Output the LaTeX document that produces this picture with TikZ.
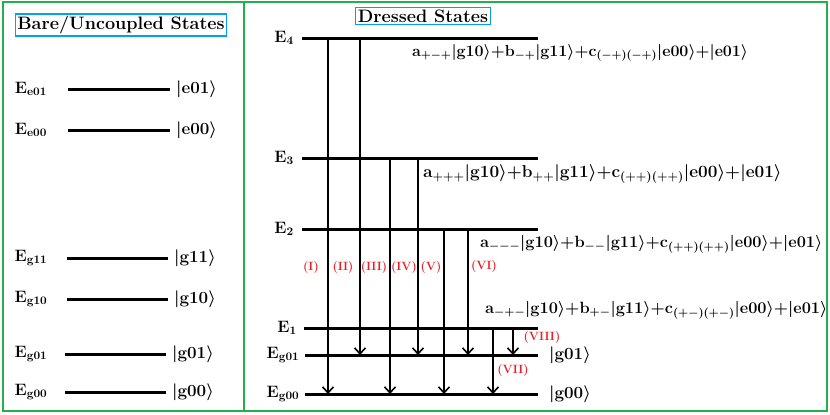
\RequirePackage{fix-cm}
\documentclass[tikz,border=0pt]{standalone}
\usetikzlibrary{arrows.meta}
\usepackage{amsmath}
\definecolor{pgreen}{RGB}{34,177,76}
\definecolor{pblue}{RGB}{0,162,232}
\definecolor{pred}{RGB}{237,28,36}
\tikzset{
  panel/.style={draw=pgreen, line width=1.5pt},
  titlebox/.style={draw=pblue, line width=1.2pt, inner sep=2pt, font=\bfseries\fontsize{18}{20}\selectfont},
  lvl/.style={line width=3pt},
  elab/.style={font=\boldmath\fontsize{16.5}{18}\selectfont, inner sep=0pt},
  ket/.style={font=\boldmath\fontsize{17}{19}\selectfont, anchor=west, inner sep=0pt},
  eqn/.style={anchor=west, inner sep=0pt},
  eqa/.style={font=\boldmath\fontsize{16}{18}\selectfont},
  eqb/.style={font=\boldmath\fontsize{17.2}{19}\selectfont},
  eqc/.style={font=\boldmath\fontsize{16.3}{18}\selectfont},
  eqd/.style={font=\boldmath\fontsize{16.3}{18}\selectfont},
  trans/.style={line width=1.6pt, -{Straight Barb[length=6pt,width=11pt,line width=1.6pt]}},
  rlab/.style={text=pred, font=\bfseries\fontsize{12}{14}\selectfont, inner sep=0pt},
}
\begin{document}
\begin{tikzpicture}[x=1pt,y=-1pt]
\useasboundingbox (0,0) rectangle (830,415);
% panels
\draw[panel] (3,2) rectangle (827,411);
\draw[panel] (244,2) -- (244,411);
% titles
\node[titlebox] (t1) at (121,25) {Bare/Uncoupled States};
\node[titlebox] (t2) at (423,16) {Dressed States};

% ---------- left panel ----------
\foreach \nm/\yy/\xa/\xb/\lab/\kt in {
  e01/89/68/170/e01/e01,
  e00/130/68/170/e00/e00,
  g11/258/67/168/g11/g11,
  g10/299/67/168/g10/g10,
  g01/354/65/166/g01/g01,
  g00/392/65/166/g00/g00}{
  \node[elab] (L\nm) at (31,\yy) {$\mathbf{E}_{\mathbf{\lab}}$};
  \coordinate (La\nm) at (\xa,\yy);
  \coordinate (Lb\nm) at (\xb,\yy);
  \draw[lvl] (La\nm) -- (Lb\nm);
  \node[ket] (K\nm) at (\xb+6,\yy) {$|\mathbf{\kt}\rangle$};
}

% ---------- right panel ----------
\foreach \nm/\yy/\xa/\lab/\lx in {
  E4/38/302/\mathbf{E}_{\mathbf{4}}/284,
  E3/158/302/\mathbf{E}_{\mathbf{3}}/284,
  E2/229/302/\mathbf{E}_{\mathbf{2}}/284,
  E1/328/304/\mathbf{E}_{\mathbf{1}}/287,
  G1/355/305/\mathbf{E}_{\mathbf{g01}}/283,
  G0/394/305/\mathbf{E}_{\mathbf{g00}}/283}{
  \node[elab] (R\nm) at (\lx,\yy) {$\lab$};
  \coordinate (Ra\nm) at (\xa,\yy);
  \coordinate (Rb\nm) at (538,\yy);
  \draw[lvl] (Ra\nm) -- (Rb\nm);
}
\node[ket] (KG1) at (549,355) {$|\mathbf{g01}\rangle$};
\node[ket] (KG0) at (549,394) {$|\mathbf{g00}\rangle$};

% transitions
\foreach \n/\xx/\ya/\yb in {
  1/328/38/394, 2/360/38/355, 3/390/158/394, 4/418/158/355,
  5/444/229/394, 6/468/229/355, 7/493/328/394, 8/513/328/355}{
  \coordinate (ta\n) at (\xx,\ya);
  \coordinate (tb\n) at (\xx,\yb);
  \draw[trans] (ta\n) -- (tb\n);
}
\node[rlab] (r1) at (311,268) {(I)};
\node[rlab] (r2) at (343,268) {(II)};
\node[rlab] (r3) at (374,268) {(III)};
\node[rlab] (r4) at (404,268) {(IV)};
\node[rlab] (r5) at (431,268) {(V)};
\node[rlab] (r6) at (484,267) {(VI)};
\node[rlab] (r7) at (513,371) {(VII)};
\node[rlab] (r8) at (542,338) {(VIII)};

% state compositions
\node[eqn,eqa] (q4) at (412,53) {$\mathbf{a}_{+-+}|\mathbf{g10}\rangle{+}\mathbf{b}_{-+}|\mathbf{g11}\rangle{+}\mathbf{c}_{(-+)(-+)}|\mathbf{e00}\rangle{+}|\mathbf{e01}\rangle$};
\node[eqn,eqb] (q3) at (423,174) {$\mathbf{a}_{+++}|\mathbf{g10}\rangle{+}\mathbf{b}_{++}|\mathbf{g11}\rangle{+}\mathbf{c}_{(++)(++)}|\mathbf{e00}\rangle{+}|\mathbf{e01}\rangle$};
\node[eqn,eqc] (q2) at (480,244) {$\mathbf{a}_{---}|\mathbf{g10}\rangle{+}\mathbf{b}_{--}|\mathbf{g11}\rangle{+}\mathbf{c}_{(++)(++)}|\mathbf{e00}\rangle{+}|\mathbf{e01}\rangle$};
\node[eqn,eqd] (q1) at (485,310) {$\mathbf{a}_{-+-}|\mathbf{g10}\rangle{+}\mathbf{b}_{+-}|\mathbf{g11}\rangle{+}\mathbf{c}_{(+-)(+-)}|\mathbf{e00}\rangle{+}|\mathbf{e01}\rangle$};
\end{tikzpicture}
\end{document}
